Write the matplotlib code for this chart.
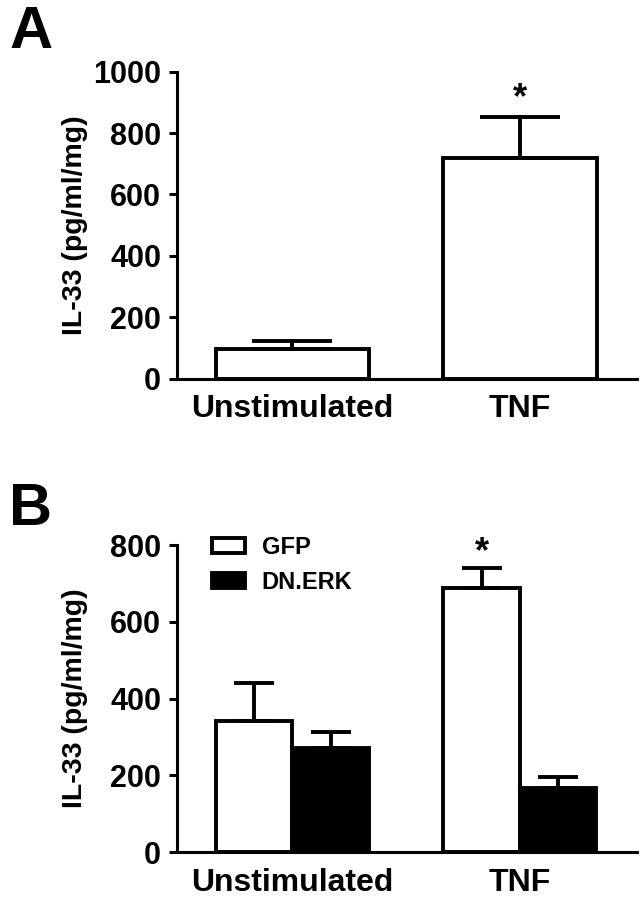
import numpy as np
import matplotlib.pyplot as plt

plt.rcParams['font.family'] = ['Liberation Sans', 'DejaVu Sans']
plt.rcParams['font.weight'] = 'bold'

groups = ["Unstimulated", "TNF"]

# panel A
a_mean = [96, 720]
a_err = [26, 131]

# panel B
b_labels = ["GFP", "DN.ERK"]
b_gfp = [342, 687]
b_gfp_err = [98, 54]
b_dn = [271, 168]
b_dn_err = [43, 29]

lw_bar = 2.8
lw_ax = 2.2


def style_axes(ax, ymax, step):
    ax.spines['top'].set_visible(False)
    ax.spines['right'].set_visible(False)
    ax.spines['left'].set_linewidth(lw_ax)
    ax.spines['bottom'].set_linewidth(lw_ax)
    ax.set_xlim(-0.51, 1.514)
    ax.set_ylim(0, ymax)
    ax.set_yticks(np.arange(0, ymax + 1, step))
    ax.set_xticks(np.arange(len(groups)))
    ax.set_xticklabels(groups)
    ax.tick_params(axis='y', length=6, width=lw_ax, labelsize=22, pad=5)
    ax.tick_params(axis='x', length=0, labelsize=23, pad=11)
    ax.set_ylabel("IL-33 (pg/ml/mg)", fontsize=20.5, fontweight='bold')
    ax.yaxis.set_label_coords(-0.193, 0.5)


fig = plt.figure(figsize=(6.44, 9.01), dpi=100)
x = np.arange(len(groups))

# ---- A ----
ax1 = fig.add_axes([0.2741, 0.5799, 0.7146, 0.3405])
ax1.bar(x, a_mean, width=0.675, color='white', edgecolor='black', linewidth=lw_bar, zorder=2)
ax1.errorbar(x, a_mean, yerr=[np.zeros(len(a_err)), a_err], fmt='none', ecolor='black',
             elinewidth=lw_bar, capsize=28.5, capthick=lw_bar, zorder=3)
style_axes(ax1, 1000, 200)
ax1.annotate("*", (1, a_mean[1] + a_err[1]), xytext=(0, 7), textcoords='offset points',
             ha='center', va='baseline', fontsize=26, fontweight='bold')
fig.text(0.014, 0.995, "A", fontsize=43, fontweight='bold', va='top', ha='left')

# ---- B ----
ax2 = fig.add_axes([0.2741, 0.0541, 0.7146, 0.3410])
w = 0.337
ax2.bar(x - w / 2, b_gfp, width=w, color='white', edgecolor='black', linewidth=lw_bar,
        label=b_labels[0], zorder=2)
ax2.bar(x + w / 2, b_dn, width=w, color='black', edgecolor='black', linewidth=lw_bar,
        label=b_labels[1], zorder=2)
ax2.errorbar(x - w / 2, b_gfp, yerr=[np.zeros(2), b_gfp_err], fmt='none', ecolor='black',
             elinewidth=lw_bar, capsize=14.5, capthick=lw_bar, zorder=3)
ax2.errorbar(x + w / 2, b_dn, yerr=[np.zeros(2), b_dn_err], fmt='none', ecolor='black',
             elinewidth=lw_bar, capsize=14.5, capthick=lw_bar, zorder=3)
style_axes(ax2, 800, 200)
ax2.annotate("*", (1 - w / 2, b_gfp[1] + b_gfp_err[1]), xytext=(0, 4), textcoords='offset points',
             ha='center', va='baseline', fontsize=26, fontweight='bold')
leg = ax2.legend(loc='upper left', bbox_to_anchor=(0.077, 1.03), frameon=False,
                 fontsize=17, handlelength=1.4, handleheight=0.64, handletextpad=0.7,
                 labelspacing=0.5, borderpad=0, borderaxespad=0)
for p in leg.get_patches():
    p.set_linewidth(lw_bar)
fig.text(0.014, 0.465, "B", fontsize=43, fontweight='bold', va='top', ha='left')

fig.savefig("out.png", dpi=100)
